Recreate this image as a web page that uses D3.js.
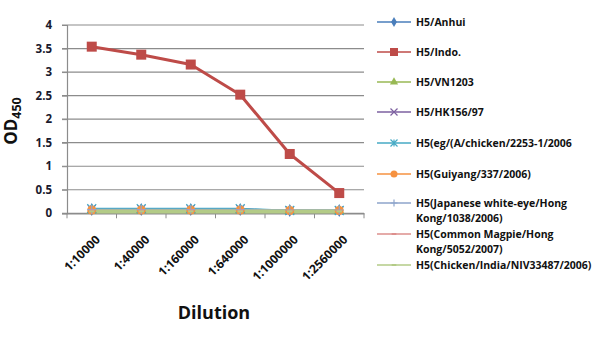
<!DOCTYPE html>
<html>
<head>
<meta charset="utf-8">
<script src="https://cdn.jsdelivr.net/npm/d3@7"></script>
<style>
  html, body { margin: 0; padding: 0; background: #fff; }
  svg { display: block; }
  text { font-family: "Open Sans", "Liberation Sans", sans-serif; }
</style>
</head>
<body>
<svg id="chart" width="592" height="343"></svg>
<script>
// Dilution series on the x axis
const dilutions = ["1:10000", "1:40000", "1:160000", "1:640000", "1:1000000", "1:2560000"];

// OD450 readings per antigen
const anhui     = [0.08, 0.08, 0.08, 0.08, 0.06, 0.06];
const indo      = [3.54, 3.37, 3.16, 2.52, 1.26, 0.43];
const vn1203    = [0.06, 0.06, 0.06, 0.06, 0.05, 0.05];
const hk156     = [0.09, 0.09, 0.09, 0.09, 0.06, 0.06];
const egChicken = [0.10, 0.10, 0.10, 0.10, 0.06, 0.06];
const guiyang   = [0.07, 0.07, 0.07, 0.07, 0.06, 0.06];
const japWE     = [0.08, 0.08, 0.08, 0.08, 0.07, 0.07];
const magpie    = [0.06, 0.06, 0.06, 0.06, 0.05, 0.05];
const chkIndia  = [0.04, 0.04, 0.04, 0.04, 0.04, 0.04];

const yTicks = [0, 0.5, 1, 1.5, 2, 2.5, 3, 3.5, 4];

const series = [
  { name: ["H5/Anhui"], values: anhui, color: "#4A7EBB", marker: "diamond", width: 1.5 },
  { name: ["H5/Indo."], values: indo, color: "#BE4B48", marker: "square", width: 3 },
  { name: ["H5/VN1203"], values: vn1203, color: "#98B954", marker: "triangle", width: 1.5 },
  { name: ["H5/HK156/97"], values: hk156, color: "#7D60A0", marker: "x", width: 1.5 },
  { name: ["H5(eg/(A/chicken/2253-1/2006"], values: egChicken, color: "#46AAC5", marker: "star", width: 1.5 },
  { name: ["H5(Guiyang/337/2006)"], values: guiyang, color: "#F69240", marker: "circle", width: 1.5 },
  { name: ["H5(Japanese white-eye/Hong", "Kong/1038/2006)"], values: japWE, color: "#8EA5CB", marker: "plus", width: 1.5 },
  { name: ["H5(Common Magpie/Hong", "Kong/5052/2007)"], values: magpie, color: "#DD8F8D", marker: "dash", width: 1.5 },
  { name: ["H5(Chicken/India/NIV33487/2006)"], values: chkIndia, color: "#B3CB87", marker: "dash", width: 4 }
];

const svg = d3.select("#chart");
const plot = { left: 67, right: 364, top: 25, bottom: 213.3 };

const x = d3.scaleBand().domain(dilutions).range([plot.left, plot.right]);
const y = d3.scaleLinear().domain([0, 4]).range([plot.bottom, plot.top]);

// horizontal gridlines
svg.append("g")
  .selectAll("line")
  .data(yTicks)
  .join("line")
  .attr("x1", plot.left - 5).attr("x2", plot.right)
  .attr("y1", d => y(d)).attr("y2", d => y(d))
  .attr("stroke", "#8c8c8c").attr("stroke-width", 1.2);

// y axis
const yAxis = svg.append("g")
  .attr("transform", `translate(${plot.left},0)`)
  .call(d3.axisLeft(y).tickValues(yTicks).tickFormat(d3.format("")).tickSize(5).tickPadding(10));
yAxis.select(".domain").attr("stroke", "#8c8c8c").attr("stroke-width", 1.2);
yAxis.selectAll(".tick line").attr("stroke", "#8c8c8c");
yAxis.selectAll("text")
  .attr("font-size", 11.5).attr("font-weight", "bold").attr("fill", "#1a1a2e")
  .style("font-family", "'Open Sans', sans-serif");

// x axis
const xAxis = svg.append("g")
  .attr("transform", `translate(0,${plot.bottom})`)
  .call(d3.axisBottom(x).tickSize(0).tickPadding(6));
xAxis.select(".domain").attr("stroke", "#8c8c8c").attr("stroke-width", 1.2);
xAxis.selectAll("text")
  .attr("font-size", 12).attr("font-weight", "bold").attr("fill", "#111")
  .attr("text-anchor", "end")
  .attr("dy", 0)
  .attr("y", 0)
  .attr("transform", "translate(9,27) rotate(-45)");

// small tick marks between categories
svg.append("g")
  .selectAll("line")
  .data(d3.range(dilutions.length + 1))
  .join("line")
  .attr("x1", i => plot.left + i * x.step())
  .attr("x2", i => plot.left + i * x.step())
  .attr("y1", plot.bottom).attr("y2", plot.bottom + 5)
  .attr("stroke", "#8c8c8c");

// axis titles
svg.append("text")
  .attr("x", 214).attr("y", 319)
  .attr("text-anchor", "middle")
  .attr("font-size", 18).attr("font-weight", "bold").attr("fill", "#111")
  .text("Dilution");

const yTitle = svg.append("text")
  .attr("transform", "translate(17,121) rotate(-90)")
  .attr("text-anchor", "middle")
  .attr("font-size", 17).attr("font-weight", "bold").attr("fill", "#111");
yTitle.append("tspan").text("OD");
yTitle.append("tspan").attr("font-size", 12.5).attr("dy", 4).text("450");

// marker shapes
function drawMarker(g, type, color, size) {
  const s = size;
  switch (type) {
    case "square":
      g.append("rect").attr("x", -s / 2).attr("y", -s / 2).attr("width", s).attr("height", s).attr("fill", color);
      break;
    case "diamond":
      g.append("path").attr("d", d3.symbol(d3.symbolDiamond, s * s * 0.6)()).attr("fill", color);
      break;
    case "triangle":
      g.append("path").attr("d", d3.symbol(d3.symbolTriangle, s * s * 0.6)()).attr("fill", color);
      break;
    case "circle":
      g.append("circle").attr("r", s / 2).attr("fill", color);
      break;
    case "x":
      g.append("path").attr("d", `M${-s/2},${-s/2}L${s/2},${s/2}M${-s/2},${s/2}L${s/2},${-s/2}`)
        .attr("stroke", color).attr("stroke-width", 1.2);
      break;
    case "star":
      g.append("path").attr("d", `M${-s/2},${-s/2}L${s/2},${s/2}M${-s/2},${s/2}L${s/2},${-s/2}M0,${-s/2}L0,${s/2}`)
        .attr("stroke", color).attr("stroke-width", 1.2);
      break;
    case "plus":
      g.append("path").attr("d", `M0,${-s/2}L0,${s/2}M${-s/2},0L${s/2},0`)
        .attr("stroke", color).attr("stroke-width", 1.2);
      break;
    case "dash":
      g.append("path").attr("d", `M${-s/3},0L${s/3},0`).attr("stroke", color).attr("stroke-width", 2);
      break;
  }
}

const line = d3.line()
  .x((d, i) => x(dilutions[i]) + x.bandwidth() / 2)
  .y(d => y(d));

const markerSize = { square: 10, diamond: 9, triangle: 9, circle: 9, x: 8, star: 9, plus: 9, dash: 8 };

// series lines (low series first, Indo. drawn last so it stays on top)
const drawOrder = [0, 2, 3, 4, 5, 6, 7, 8, 1];
drawOrder.forEach(k => {
  const s = series[k];
  svg.append("path")
    .datum(s.values)
    .attr("d", line)
    .attr("fill", "none")
    .attr("stroke", s.color)
    .attr("stroke-width", s.width)
    .attr("stroke-linejoin", "round");
});
drawOrder.forEach(k => {
  const s = series[k];
  s.values.forEach((v, i) => {
    const g = svg.append("g")
      .attr("transform", `translate(${x(dilutions[i]) + x.bandwidth() / 2},${y(v)})`);
    drawMarker(g, s.marker, s.color, markerSize[s.marker]);
  });
});

// legend
const legendRows = [22, 52, 82, 112, 143, 174, 203, 234, 265];
series.forEach((s, k) => {
  const ly = legendRows[k];
  const g = svg.append("g");
  g.append("line").attr("x1", 377).attr("x2", 411).attr("y1", ly).attr("y2", ly)
    .attr("stroke", s.color).attr("stroke-width", 1.5);
  const mg = g.append("g").attr("transform", `translate(394,${ly})`);
  drawMarker(mg, s.marker, s.color, s.marker === "square" ? 8 : 7);
  s.name.forEach((t, j) => {
    g.append("text")
      .attr("x", 416).attr("y", ly + 3.8 + j * 15)
      .attr("font-size", 10.5).attr("font-weight", "bold").attr("fill", "#111")
      .text(t);
  });
});
</script>
</body>
</html>
